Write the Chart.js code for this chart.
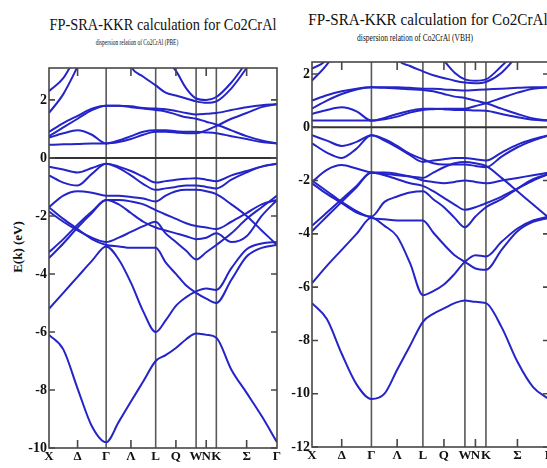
<!DOCTYPE html>
<html>
<head>
<meta charset="utf-8">
<title>FP-SRA-KKR calculation for Co2CrAl</title>
<script src="https://cdn.jsdelivr.net/npm/chart.js@4.4.1/dist/chart.umd.min.js"></script>
<style>
  html, body { margin: 0; padding: 0; background: #fff; }
  body { width: 547px; height: 468px; overflow: hidden; position: relative; font-family: "Liberation Serif", "DejaVu Serif", serif; color: #111; }
  canvas { position: absolute; top: 0; }
  .ttl { position: absolute; white-space: nowrap; text-align: center; line-height: 1; transform-origin: center; }
  #ylab { position: absolute; left: -32px; top: 239px; width: 100px; text-align: center; font-size: 13px; font-weight: bold; line-height: 16px; transform: rotate(-90deg); white-space: nowrap; }
</style>
</head>
<body>
<div class="ttl" style="left:13px;width:300px;top:16px;font-size:17px;transform:scaleX(0.845)">FP-SRA-KKR calculation for Co2CrAl</div>
<div class="ttl" style="left:37px;width:200px;top:38px;font-size:8.5px;transform:scaleX(0.64)">dispersion relation of Co2CrAl (PBE)</div>
<div class="ttl" style="left:278px;width:300px;top:11px;font-size:17.5px;transform:scaleX(0.865)">FP-SRA-KKR calculation for Co2CrAl</div>
<div class="ttl" style="left:315px;width:200px;top:33px;font-size:10px;transform:scaleX(0.75)">dispersion relation of Co2CrAl (VBH)</div>
<div id="ylab">E(k) (eV)</div>
<canvas id="pbe" width="285" height="468" style="left:0"></canvas>
<canvas id="vbh" width="287" height="468" style="left:270px"></canvas>
<script>
// k-path X-Γ-L-W-K-Γ (units of 2π/a), sampled points
const kPath = [0, 0.25, 0.5, 0.75, 1, 1.22, 1.433, 1.65, 1.866, 2.04, 2.22, 2.4, 2.573, 2.75, 2.927, 3.19, 3.457, 3.72, 3.988];
const kLabelPos = [0, 0.5, 1, 1.433, 1.866, 2.22, 2.573, 2.75, 2.927, 3.457, 3.988];
const kLabels = ['X', 'Δ', 'Γ', 'Λ', 'L', 'Q', 'W', 'N', 'K', 'Σ', 'Γ'];
const kLines = [1, 1.866, 2.573, 2.927];
const kMinor = [0.5, 1.433, 2.22, 2.75, 3.457];
const pbeTicks = [2, 0, -2, -4, -6, -8, -10];
const vbhTicks = [2, 0, -2, -4, -6, -8, -10, -12];

// PBE bands (eV)
const pbe01 = [-6.1, -6.6, -7.95, -9.25, -9.8, -9.1, -8.4, -7.7, -7.0, -6.8, -6.55, -6.25, -6.05, -6.1, -6.2, -7.3, -8.1, -8.9, -9.8];
const pbe02 = [-5.2, -4.65, -4.1, -3.55, -3.05, -3.5, -4.3, -5.3, -6.0, -5.6, -5.1, -4.8, -4.6, -4.5, -4.55, -3.8, -3.15, -2.95, -2.9];
const pbe03 = [-1.7, -2.1, -2.45, -2.8, -3.0, -3.05, -3.1, -3.1, -3.1, -3.6, -4.0, -4.4, -4.65, -4.85, -5.0, -4.2, -3.4, -3.1, -3.0];
const pbe04 = [-1.85, -2.2, -2.5, -2.75, -2.9, -2.75, -2.55, -2.35, -2.2, -2.6, -2.9, -3.2, -3.5, -3.25, -3.0, -2.6, -2.1, -1.7, -1.3];
const pbe05 = [-1.7, -1.3, -1.15, -1.2, -1.3, -1.3, -1.35, -1.4, -1.5, -1.3, -1.15, -1.1, -1.1, -1.15, -1.25, -1.6, -2.0, -2.5, -3.0];
const pbe06 = [-3.25, -2.8, -2.3, -1.85, -1.45, -1.45, -1.5, -1.6, -1.8, -1.95, -2.1, -2.25, -2.35, -2.4, -2.45, -2.2, -1.9, -1.6, -1.45];
const pbe07 = [-3.45, -2.95, -2.4, -1.9, -1.45, -1.6, -1.9, -2.2, -2.4, -2.5, -2.6, -2.7, -2.8, -2.75, -2.6, -2.9, -2.7, -2.0, -1.45];
const pbe08 = [-0.3, -0.4, -0.5, -0.35, -0.2, -0.3, -0.45, -0.65, -0.85, -0.8, -0.75, -0.72, -0.7, -0.75, -0.8, -0.6, -0.45, -0.3, -0.2];
const pbe09 = [-0.6, -0.85, -0.95, -0.55, -0.2, -0.35, -0.6, -0.9, -1.1, -1.05, -1.0, -0.95, -0.95, -1.0, -1.05, -0.75, -0.5, -0.3, -0.2];
const pbe10 = [0.45, 0.47, 0.48, 0.5, 0.5, 0.6, 0.75, 0.9, 0.95, 0.95, 0.92, 0.9, 0.9, 0.88, 0.85, 0.75, 0.65, 0.55, 0.5];
const pbe11 = [0.7, 0.85, 0.95, 0.8, 0.5, 0.55, 0.65, 0.8, 0.9, 0.9, 0.88, 0.85, 0.85, 0.95, 1.1, 1.35, 1.55, 1.75, 1.85];
const pbe12 = [0.9, 1.2, 1.45, 1.7, 1.8, 1.8, 1.75, 1.7, 1.65, 1.6, 1.5, 1.4, 1.35, 1.25, 1.15, 0.95, 0.75, 0.6, 0.5];
const pbe13 = [0.75, 1.05, 1.35, 1.65, 1.8, 1.8, 1.78, 1.72, 1.7, 1.68, 1.62, 1.55, 1.5, 1.52, 1.55, 1.65, 1.75, 1.82, 1.85];
const pbe14 = [1.55, 2.2, 3.15, 4.2, 5.0, 4.4, 3.15, 2.8, 2.5, 2.25, 2.15, 2.05, 1.95, 1.9, 1.95, 2.4, 3.1, 3.9, 4.6];
const pbe15 = [2.3, 2.75, 3.6, 4.3, 5.0, 5.0, 4.8, 4.3, 3.8, 3.4, 3.0, 2.4, 2.05, 2.0, 2.1, 2.6, 3.3, 4.0, 4.6];

// VBH bands (eV)
const vbh01 = [-6.6, -7.2, -8.5, -9.65, -10.2, -10.0, -9.1, -8.2, -7.3, -7.0, -6.8, -6.6, -6.5, -6.55, -6.6, -7.5, -8.8, -9.75, -10.2];
const vbh02 = [-5.85, -5.2, -4.6, -4.0, -3.4, -3.7, -4.1, -5.1, -6.3, -6.15, -5.9, -5.5, -5.05, -4.8, -4.85, -4.3, -3.8, -3.5, -3.35];
const vbh03 = [-2.0, -2.4, -2.8, -3.15, -3.4, -3.45, -3.5, -3.5, -3.5, -3.95, -4.4, -4.8, -5.05, -5.3, -5.35, -4.6, -3.9, -3.55, -3.4];
const vbh04 = [-2.1, -2.5, -2.85, -3.2, -3.35, -2.8, -2.6, -2.45, -2.4, -2.7, -3.0, -3.4, -3.75, -3.35, -3.0, -2.7, -2.3, -1.95, -1.75];
const vbh05 = [-2.05, -1.6, -1.42, -1.55, -1.7, -1.75, -1.8, -1.85, -1.9, -1.7, -1.5, -1.35, -1.3, -1.35, -1.45, -1.9, -2.4, -2.9, -3.4];
const vbh06 = [-3.7, -3.2, -2.7, -2.2, -1.7, -1.7, -1.75, -1.85, -2.0, -2.05, -2.1, -2.05, -2.0, -2.05, -2.1, -2.0, -1.9, -1.8, -1.7];
const vbh07 = [-3.9, -3.35, -2.8, -2.25, -1.7, -1.8, -1.95, -2.1, -2.2, -2.4, -2.65, -2.9, -3.1, -3.0, -2.85, -2.6, -2.3, -2.0, -1.75];
const vbh08 = [-0.3, -0.5, -0.7, -0.55, -0.3, -0.5, -0.75, -1.05, -1.3, -1.25, -1.2, -1.15, -1.15, -1.2, -1.25, -0.95, -0.65, -0.45, -0.3];
const vbh09 = [-0.6, -0.95, -1.15, -0.8, -0.3, -0.45, -0.7, -1.0, -1.2, -1.35, -1.4, -1.4, -1.4, -1.45, -1.5, -1.1, -0.75, -0.5, -0.3];
const vbh10 = [0.25, 0.25, 0.25, 0.25, 0.25, 0.35, 0.5, 0.62, 0.7, 0.7, 0.68, 0.65, 0.65, 0.63, 0.62, 0.5, 0.38, 0.28, 0.25];
const vbh11 = [0.5, 0.65, 0.75, 0.6, 0.25, 0.3, 0.4, 0.55, 0.65, 0.68, 0.7, 0.7, 0.7, 0.8, 0.9, 1.1, 1.3, 1.45, 1.5];
const vbh12 = [0.7, 1.0, 1.25, 1.42, 1.5, 1.48, 1.46, 1.43, 1.4, 1.35, 1.25, 1.15, 1.1, 1.0, 0.9, 0.7, 0.5, 0.33, 0.25];
const vbh13 = [1.0, 1.2, 1.35, 1.45, 1.5, 1.5, 1.5, 1.48, 1.45, 1.45, 1.42, 1.4, 1.38, 1.4, 1.42, 1.45, 1.48, 1.5, 1.5];
const vbh14 = [1.75, 2.35, 3.2, 4.0, 4.6, 4.0, 2.6, 2.3, 2.1, 1.95, 1.85, 1.75, 1.68, 1.65, 1.7, 2.05, 2.7, 3.4, 4.2];
const vbh15 = [2.2, 2.55, 3.6, 4.3, 5.0, 5.0, 4.7, 4.1, 3.5, 2.95, 2.5, 2.05, 1.8, 1.75, 1.8, 2.3, 2.9, 3.6, 4.4];

const pbeBands = [pbe01, pbe02, pbe03, pbe04, pbe05, pbe06, pbe07, pbe08, pbe09, pbe10, pbe11, pbe12, pbe13, pbe14, pbe15];
const vbhBands = [vbh01, vbh02, vbh03, vbh04, vbh05, vbh06, vbh07, vbh08, vbh09, vbh10, vbh11, vbh12, vbh13, vbh14, vbh15];

const serif = "'Liberation Serif', 'DejaVu Serif', serif";
const bandColor = '#2424c8';

function bandSets(bands) {
  return bands.map(e => ({
    data: kPath.map((k, i) => ({ x: k, y: e[i] })),
    showLine: true,
    borderColor: bandColor,
    borderWidth: 2,
    pointRadius: 0,
    cubicInterpolationMode: 'monotone',
    clip: 0
  }));
}

// symmetry lines, Fermi level, frame and inner ticks
const bandFrame = {
  id: 'bandFrame',
  beforeDatasetsDraw(chart) {
    const { ctx, chartArea: a, scales: { x, y } } = chart;
    ctx.save();
    ctx.strokeStyle = '#5a5a5a';
    ctx.lineWidth = 1.6;
    ctx.beginPath();
    kLines.forEach(k => {
      const px = x.getPixelForValue(k);
      ctx.moveTo(px, a.top);
      ctx.lineTo(px, a.bottom);
    });
    ctx.stroke();
    ctx.strokeStyle = '#333';
    ctx.lineWidth = 2;
    const y0 = y.getPixelForValue(0);
    ctx.beginPath();
    ctx.moveTo(a.left, y0);
    ctx.lineTo(a.right, y0);
    ctx.stroke();
    ctx.restore();
  },
  afterDatasetsDraw(chart) {
    const { ctx, chartArea: a, scales: { x, y } } = chart;
    ctx.save();
    ctx.strokeStyle = '#474747';
    ctx.lineWidth = 1.6;
    ctx.strokeRect(a.left, a.top, a.right - a.left, a.bottom - a.top);
    ctx.beginPath();
    kMinor.forEach(k => {
      const px = x.getPixelForValue(k);
      ctx.moveTo(px, a.top); ctx.lineTo(px, a.top + 8);
      ctx.moveTo(px, a.bottom); ctx.lineTo(px, a.bottom - 8);
    });
    y.ticks.forEach(t => {
      const py = y.getPixelForValue(t.value);
      ctx.moveTo(a.left, py); ctx.lineTo(a.left + 6, py);
      ctx.moveTo(a.right, py); ctx.lineTo(a.right - 6, py);
    });
    ctx.stroke();
    ctx.restore();
  }
};

function drawPanel(id, bands, yMin, yMax, yTicks, axisW, padTop, axisH) {
  return new Chart(document.getElementById(id), {
    type: 'scatter',
    data: { datasets: bandSets(bands) },
    options: {
      responsive: false,
      animation: false,
      devicePixelRatio: 1,
      layout: { padding: { top: padTop, right: 8, left: 0, bottom: 0 } },
      plugins: { legend: { display: false }, tooltip: { enabled: false } },
      scales: {
        x: {
          type: 'linear', min: 0, max: 3.988,
          afterBuildTicks: s => { s.ticks = kLabelPos.map(v => ({ value: v })); },
          afterFit: s => { s.height = axisH; },
          grid: { display: false, drawTicks: false },
          border: { display: false },
          ticks: {
            autoSkip: false, maxRotation: 0, padding: 1, color: '#111',
            font: { family: serif, size: 13, weight: 'bold' },
            callback: (v, i) => kLabels[i]
          }
        },
        y: {
          type: 'linear', min: yMin, max: yMax,
          afterBuildTicks: s => { s.ticks = yTicks.map(v => ({ value: v })); },
          afterFit: s => { s.width = axisW; },
          grid: { display: false, drawTicks: false },
          border: { display: false },
          ticks: {
            padding: 2, color: '#111',
            font: { family: serif, size: 14, weight: 'bold' },
            callback: v => v
          }
        }
      }
    },
    plugins: [bandFrame]
  });
}

drawPanel('pbe', pbeBands, -10, 3.1, pbeTicks, 49, 68, 20);
drawPanel('vbh', vbhBands, -12, 2.45, vbhTicks, 42, 62, 21);
</script>
</body>
</html>
